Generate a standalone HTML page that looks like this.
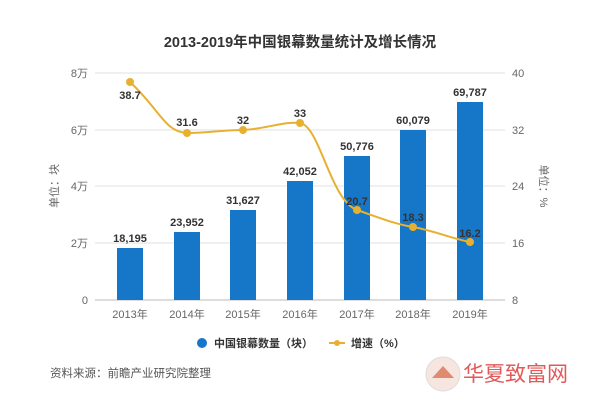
<!DOCTYPE html>
<html><head><meta charset="utf-8"><style>
body{margin:0;background:#fff;}
svg text{font-family:"Liberation Sans","Noto Sans CJK SC",sans-serif;}
</style></head><body>
<svg width="600" height="402" xmlns="http://www.w3.org/2000/svg">
<rect width="600" height="402" fill="#fff"/>
<text x="300" y="47" font-size="14.5" font-weight="bold" fill="#333" text-anchor="middle">2013-2019年中国银幕数量统计及增长情况</text>
<g stroke="#e0e0e0" stroke-width="1">
<line x1="95" y1="73" x2="505" y2="73"/>
<line x1="95" y1="130" x2="505" y2="130"/>
<line x1="95" y1="186" x2="505" y2="186"/>
<line x1="95" y1="243" x2="505" y2="243"/>
</g>
<line x1="95" y1="300" x2="505" y2="300" stroke="#bbb"/>
<g font-size="11" fill="#666">
<text x="88" y="77" text-anchor="end">8万</text>
<text x="88" y="134" text-anchor="end">6万</text>
<text x="88" y="190" text-anchor="end">4万</text>
<text x="88" y="247" text-anchor="end">2万</text>
<text x="88" y="304" text-anchor="end">0</text>
<text x="512" y="77">40</text>
<text x="512" y="134">32</text>
<text x="512" y="190">24</text>
<text x="512" y="247">16</text>
<text x="512" y="304">8</text>
<text x="58" y="186" transform="rotate(-90 58 186)" text-anchor="middle">单位：块</text>
<text x="540" y="186" transform="rotate(90 540 186)" text-anchor="middle">单位：%</text>
</g>
<g fill="#1677c9">
<rect x="117" y="248" width="26" height="52"/>
<rect x="174" y="232" width="26" height="68"/>
<rect x="230" y="210" width="26" height="90"/>
<rect x="287" y="181" width="26" height="119"/>
<rect x="344" y="156" width="26" height="144"/>
<rect x="400" y="130" width="26" height="170"/>
<rect x="457" y="102" width="26" height="198"/>
</g>
<g font-size="11" fill="#333" text-anchor="middle" font-weight="bold">
<text x="130" y="242">18,195</text>
<text x="187" y="226">23,952</text>
<text x="243" y="204">31,627</text>
<text x="300" y="175">42,052</text>
<text x="357" y="150">50,776</text>
<text x="413" y="124">60,079</text>
<text x="470" y="96">69,787</text>
</g>
<path d="M130,82 C160,110 165,132 187,133 C210,133 220,130 243,130 C265,129 285,121 300,123 C320,126 330,200 357,210 C380,218 395,224 413,227 C435,231 450,238 470,242" fill="none" stroke="#e8b030" stroke-width="2"/>
<g fill="#e8b030">
<circle cx="130" cy="82" r="4"/><circle cx="187" cy="133" r="4"/><circle cx="243" cy="130" r="4"/><circle cx="300" cy="123" r="4"/><circle cx="357" cy="210" r="4"/><circle cx="413" cy="227" r="4"/><circle cx="470" cy="242" r="4"/>
</g>
<g font-size="11" fill="#333" text-anchor="middle" font-weight="bold">
<text x="130" y="99">38.7</text>
<text x="187" y="126">31.6</text>
<text x="243" y="124">32</text>
<text x="300" y="117">33</text>
<text x="357" y="205">20.7</text>
<text x="413" y="221">18.3</text>
<text x="470" y="237">16.2</text>
</g>
<g font-size="11" fill="#666" text-anchor="middle">
<text x="130" y="318">2013年</text><text x="187" y="318">2014年</text><text x="243" y="318">2015年</text><text x="300" y="318">2016年</text><text x="357" y="318">2017年</text><text x="413" y="318">2018年</text><text x="470" y="318">2019年</text>
</g>
<circle cx="202" cy="343" r="5" fill="#1677c9"/>
<text x="214" y="347" font-size="11" fill="#333" font-weight="bold">中国银幕数量（块）</text>
<line x1="329" y1="343" x2="345" y2="343" stroke="#e8b030" stroke-width="2"/>
<circle cx="337" cy="343" r="3" fill="#e8b030"/>
<text x="351" y="347" font-size="11" fill="#333" font-weight="bold">增速（%）</text>
<text x="50" y="377" font-size="11.5" fill="#555">资料来源：前瞻产业研究院整理</text>
<circle cx="443" cy="374" r="17" fill="#f7e6e0" stroke="#ddd"/>
<path d="M432,378 L443,366 L454,378 Z" fill="#e08a70"/>
<text x="463" y="381" font-size="21" fill="#e05a5a" font-family="'Noto Sans CJK SC',sans-serif">华夏致富网</text>
</svg>
</body></html>
